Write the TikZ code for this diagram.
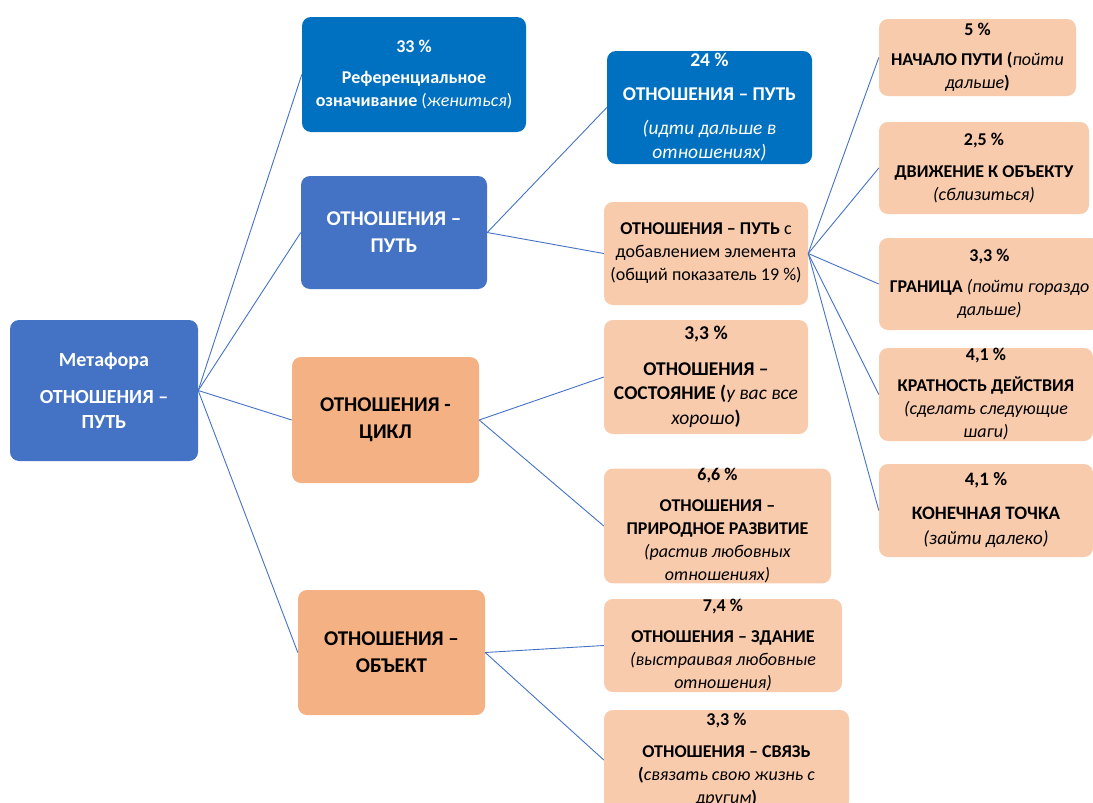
\documentclass[tikz,border=0pt]{standalone}
\usepackage{fontspec}
\setmainfont{Carlito}
\definecolor{blueA}{HTML}{4472C4}
\definecolor{blueB}{HTML}{0070C0}
\definecolor{orA}{HTML}{F4B183}
\definecolor{orB}{HTML}{F8CBAD}
\tikzset{
  box/.style={rounded corners=9pt, inner sep=0pt, align=center},
  bigbox/.style={box, fill=blueA, text=white, font=\bfseries\fontsize{21}{27}\selectfont},
  darkbox/.style={box, fill=blueB, text=white, font=\fontsize{18}{23}\selectfont},
  cyclebox/.style={box, fill=orA, text=black, font=\bfseries\fontsize{21}{27}\selectfont},
  leafbox/.style={box, fill=orB, text=black, font=\fontsize{18}{23}\selectfont},
  link/.style={draw=blueA, line width=0.9pt}
}
\begin{document}
\begin{tikzpicture}[x=1pt,y=-1pt]
\useasboundingbox (0,0) rectangle (1093,803);
\clip (0,0) rectangle (1093,803);

% level 0
\node[bigbox, minimum width=188pt, minimum height=141pt, font=\bfseries\fontsize{20}{25}\selectfont] (root) at (104,390.5)
  {Метафора\\[12pt]ОТНОШЕНИЯ –\\ПУТЬ};

% level 1
\node[darkbox, minimum width=224pt, minimum height=115pt] (A) at (414,74.5)
  {\textbf{33 \%}\\[8pt]\textbf{Референциальное}\\\textbf{означивание} (\textit{жениться})};
\node[bigbox, minimum width=186pt, minimum height=113pt] (B) at (394,232.5)
  {ОТНОШЕНИЯ –\\ПУТЬ};
\node[cyclebox, minimum width=187pt, minimum height=126pt] (C) at (385.5,420)
  {ОТНОШЕНИЯ -\\ЦИКЛ};
\node[cyclebox, minimum width=187pt, minimum height=125pt] (D) at (391.5,652.5)
  {ОТНОШЕНИЯ –\\ОБЪЕКТ};

% level 2
\node[darkbox, minimum width=205pt, minimum height=113pt, font=\fontsize{19.5}{24}\selectfont] (E) at (709.5,107.5)
  {\textbf{24 \%}\\[10pt]\textbf{ОТНОШЕНИЯ – ПУТЬ}\\[10pt]\textit{(идти дальше в}\\\textit{отношениях)}};
\node[leafbox, minimum width=204pt, minimum height=103pt] (F) at (706,253.5)
  {\textbf{ОТНОШЕНИЯ – ПУТЬ} с\\добавлением элемента\\(общий показатель 19 \%)};
\node[leafbox, minimum width=204pt, minimum height=114pt, font=\fontsize{19.5}{24.5}\selectfont] (G) at (706,377)
  {\textbf{3,3 \%}\\[11pt]\textbf{ОТНОШЕНИЯ –}\\\textbf{СОСТОЯНИЕ (}\textit{у вас все}\\\textit{хорошо}\textbf{)}};
\node[leafbox, minimum width=227pt, minimum height=112pt] (H) at (717.5,526)
  {\textbf{6,6 \%}\\[8pt]\textbf{ОТНОШЕНИЯ –}\\\textbf{ПРИРОДНОЕ РАЗВИТИЕ}\\\textit{(растив любовных}\\\textit{отношениях)}};
\node[leafbox, minimum width=238pt, minimum height=93pt] (I) at (723,645.5)
  {\textbf{7,4 \%}\\[8pt]\textbf{ОТНОШЕНИЯ – ЗДАНИЕ}\\\textit{(выстраивая любовные}\\\textit{отношения)}};
\node[leafbox, minimum width=245pt, minimum height=100pt] (J) at (726.5,760)
  {\textbf{3,3 \%}\\[9pt]\textbf{ОТНОШЕНИЯ – СВЯЗЬ}\\\textbf{(}\textit{связать свою жизнь с}\\\textit{другим}\textbf{)}};

% level 3
\node[leafbox, minimum width=197pt, minimum height=77pt] (K) at (977.5,57.5)
  {\textbf{5 \%}\\[7pt]\textbf{НАЧАЛО ПУТИ (}\textit{пойти}\\\textit{дальше}\textbf{)}};
\node[leafbox, minimum width=210pt, minimum height=92pt] (L) at (984,168)
  {\textbf{2,5 \%}\\[9pt]\textbf{ДВИЖЕНИЕ К ОБЪЕКТУ}\\\textit{(сблизиться)}};
\node[leafbox, minimum width=221pt, minimum height=92pt] (M) at (989.5,284)
  {\textbf{3,3 \%}\\[8pt]\textbf{ГРАНИЦА} \textit{(пойти гораздо}\\\textit{дальше)}};
\node[leafbox, minimum width=214pt, minimum height=93pt] (N) at (986,394.5)
  {\textbf{4,1 \%}\\[8pt]\textbf{КРАТНОСТЬ ДЕЙСТВИЯ}\\\textit{(сделать следующие}\\\textit{шаги)}};
\node[leafbox, minimum width=214pt, minimum height=93pt, font=\fontsize{19}{25}\selectfont] (O) at (986,510.5)
  {\textbf{4,1 \%}\\[9pt]\textbf{КОНЕЧНАЯ ТОЧКА}\\\textit{(зайти далеко)}};

% connectors
\draw[link] (root.east) -- (A.west);
\draw[link] (root.east) -- (B.west);
\draw[link] (root.east) -- (C.west);
\draw[link] (root.east) -- (D.west);
\draw[link] (B.east) -- (E.west);
\draw[link] (B.east) -- (F.west);
\draw[link] (C.east) -- (G.west);
\draw[link] (C.east) -- (H.west);
\draw[link] (D.east) -- (I.west);
\draw[link] (D.east) -- (J.west);
\draw[link] (F.east) -- (K.west);
\draw[link] (F.east) -- (L.west);
\draw[link] (F.east) -- (M.west);
\draw[link] (F.east) -- (N.west);
\draw[link] (F.east) -- (O.west);
\end{tikzpicture}
\end{document}
